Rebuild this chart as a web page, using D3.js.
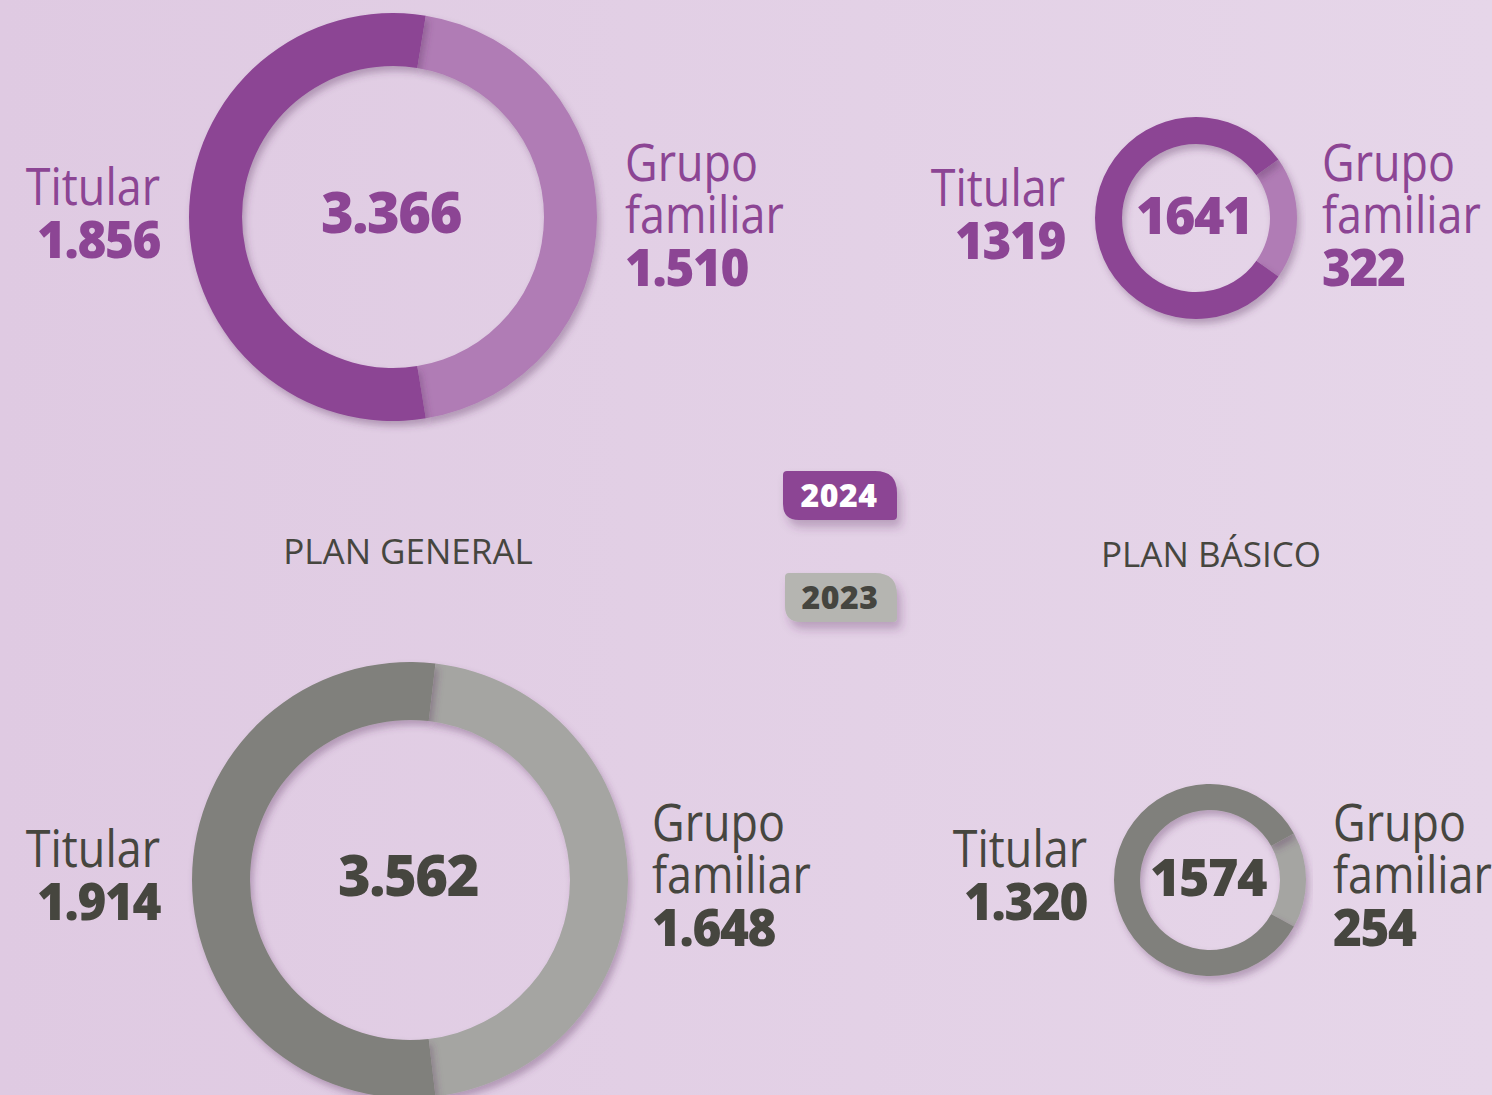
<!DOCTYPE html>
<html>
<head>
<meta charset="utf-8">
<script src="https://cdn.jsdelivr.net/npm/d3@7"></script>
<style>
  html, body { margin: 0; padding: 0; background: #e2cfe4; }
  svg { display: block; }
</style>
</head>
<body>
<svg id="chart" width="1492" height="1095"></svg>
<script>
// Beneficiaries by plan and year
const years = ["2024", "2023"];
const plans = ["PLAN GENERAL", "PLAN BÁSICO"];
const titular = { "2024": [1856, 1319], "2023": [1914, 1320] };
const grupoFamiliar = { "2024": [1510, 322], "2023": [1648, 254] };
const totalLabels = { "2024": ["3.366", "1641"], "2023": ["3.562", "1574"] };
const titularLabels = { "2024": ["1.856", "1319"], "2023": ["1.914", "1.320"] };
const grupoLabels = { "2024": ["1.510", "322"], "2023": ["1.648", "254"] };

const palette = {
  "2024": { dark: "#8c4594", light: "#b07cb5", text: "#8c4594", badge: "#8c4594", badgeText: "#ffffff" },
  "2023": { dark: "#80807b", light: "#a5a5a2", text: "#46463f", badge: "#b5b5b1", badgeText: "#45453f" }
};

// layout of each donut: centre, radii, label anchors
const layout = {
  "2024": [
    { cx: 393, cy: 217, R: 204, r: 151, lx: 160, ly: 205, gx: 625, gy: 181, num: 56 },
    { cx: 1196, cy: 218, R: 101, r: 74, lx: 1065, ly: 206, gx: 1322, gy: 181, num: 52 }
  ],
  "2023": [
    { cx: 410, cy: 880, R: 218, r: 160, lx: 160, ly: 867, gx: 652, gy: 841, num: 56 },
    { cx: 1210, cy: 880, R: 96, r: 70, lx: 1087, ly: 867, gx: 1333, gy: 841, num: 52 }
  ]
};

const svg = d3.select("#chart");
const defs = svg.append("defs");

const bg = defs.append("linearGradient").attr("id", "bg").attr("x1", 0).attr("x2", 1).attr("y1", 0).attr("y2", 0);
bg.append("stop").attr("offset", "0%").attr("stop-color", "#dfcae2");
bg.append("stop").attr("offset", "100%").attr("stop-color", "#e6d6e9");
svg.append("rect").attr("width", 1492).attr("height", 1095).attr("fill", "url(#bg)");

const shadow = defs.append("filter").attr("id", "shadow")
  .attr("x", "-20%").attr("y", "-20%").attr("width", "140%").attr("height", "140%");
shadow.append("feDropShadow").attr("dx", 3).attr("dy", 5).attr("stdDeviation", 3.5)
  .attr("flood-color", "#5a3060").attr("flood-opacity", 0.35);

const softShadow = defs.append("filter").attr("id", "softShadow")
  .attr("x", "-30%").attr("y", "-30%").attr("width", "160%").attr("height", "180%");
softShadow.append("feDropShadow").attr("dx", 4).attr("dy", 7).attr("stdDeviation", 5)
  .attr("flood-color", "#5a3060").attr("flood-opacity", 0.3);

const FONT = "'Open Sans', 'Noto Sans', sans-serif";

// squeeze a text element horizontally so it reads like a narrower face
function condense(sel, k) {
  sel.each(function () {
    const w = this.getComputedTextLength();
    d3.select(this).attr("textLength", w * k).attr("lengthAdjust", "spacingAndGlyphs");
  });
}

years.forEach(year => {
  const col = palette[year];
  plans.forEach((plan, i) => {
    const L = layout[year][i];
    const t = titular[year][i], g = grupoFamiliar[year][i];
    const span = 2 * Math.PI * g / (t + g);
    // grupo familiar slice centred on the right-hand side
    const pie = d3.pie().sort(null).value(d => d.v)
      .startAngle(Math.PI / 2 - span / 2).endAngle(Math.PI / 2 - span / 2 + 2 * Math.PI);
    const arcs = pie([{ k: "grupo", v: g }, { k: "titular", v: t }]);
    const arc = d3.arc().innerRadius(L.r).outerRadius(L.R);

    const gg = svg.append("g").attr("transform", `translate(${L.cx},${L.cy})`);
    gg.selectAll("path").data(arcs).join("path")
      .attr("d", arc)
      .attr("fill", d => d.data.k === "titular" ? col.dark : col.light)
      .attr("filter", "url(#shadow)");

    // total in the hole
    svg.append("text")
      .attr("x", L.cx - 2).attr("y", L.cy + 16)
      .attr("text-anchor", "middle")
      .attr("font-family", FONT).attr("font-weight", 800)
      .attr("font-size", L.num).attr("letter-spacing", -1.5)
      .attr("fill", col.text).text(totalLabels[year][i]);

    // titular label, right aligned
    const tl = svg.append("text").attr("x", L.lx).attr("y", L.ly)
      .attr("text-anchor", "end").attr("font-family", FONT).attr("font-weight", 400)
      .attr("font-size", 51).attr("fill", col.text).text("Titular");
    condense(tl, 0.88);
    const tn = svg.append("text").attr("x", L.lx).attr("y", L.ly + 53)
      .attr("text-anchor", "end").attr("font-family", FONT).attr("font-weight", 800)
      .attr("font-size", 52).attr("letter-spacing", -1.5)
      .attr("fill", col.text).text(titularLabels[year][i]);
    condense(tn, 0.95);

    // grupo familiar label, left aligned
    const g1 = svg.append("text").attr("x", L.gx).attr("y", L.gy)
      .attr("font-family", FONT).attr("font-weight", 400)
      .attr("font-size", 51).attr("fill", col.text).text("Grupo");
    const g2 = svg.append("text").attr("x", L.gx).attr("y", L.gy + 52)
      .attr("font-family", FONT).attr("font-weight", 400)
      .attr("font-size", 51).attr("fill", col.text).text("familiar");
    condense(g1, 0.88);
    condense(g2, 0.88);
    const gn = svg.append("text").attr("x", L.gx).attr("y", L.gy + 105)
      .attr("font-family", FONT).attr("font-weight", 800)
      .attr("font-size", 52).attr("letter-spacing", -1.5)
      .attr("fill", col.text).text(grupoLabels[year][i]);
    condense(gn, 0.95);
  });
});

// plan titles
const planX = [408, 1211];
plans.forEach((p, i) => {
  svg.append("text").attr("x", planX[i]).attr("y", i === 0 ? 564 : 567)
    .attr("text-anchor", "middle").attr("font-family", FONT).attr("font-weight", 500)
    .attr("font-size", 35).attr("fill", "#46463f").text(p);
});

// year badges
const badgeY = { "2024": 471, "2023": 573 };
const badgeX = { "2024": 783, "2023": 785 };
function badgePath(x, y, w, h) {
  const big = 22, small = 4, bl = 16;
  return `M${x + small},${y} L${x + w - big},${y} Q${x + w},${y} ${x + w},${y + big}
          L${x + w},${y + h - small} Q${x + w},${y + h} ${x + w - small},${y + h}
          L${x + bl},${y + h} Q${x},${y + h} ${x},${y + h - bl}
          L${x},${y + small} Q${x},${y} ${x + small},${y} Z`;
}
years.forEach(year => {
  const col = palette[year];
  const x = badgeX[year], y = badgeY[year], w = 114 - (year === "2023" ? 2 : 0), h = 49;
  svg.append("path").attr("d", badgePath(x, y, w, h))
    .attr("fill", col.badge).attr("filter", "url(#softShadow)");
  svg.append("text").attr("x", x + w / 2 - 1).attr("y", y + 36)
    .attr("text-anchor", "middle").attr("font-family", FONT).attr("font-weight", 800)
    .attr("font-size", 32).attr("letter-spacing", 0.5)
    .attr("fill", col.badgeText).text(year);
});
</script>
</body>
</html>
